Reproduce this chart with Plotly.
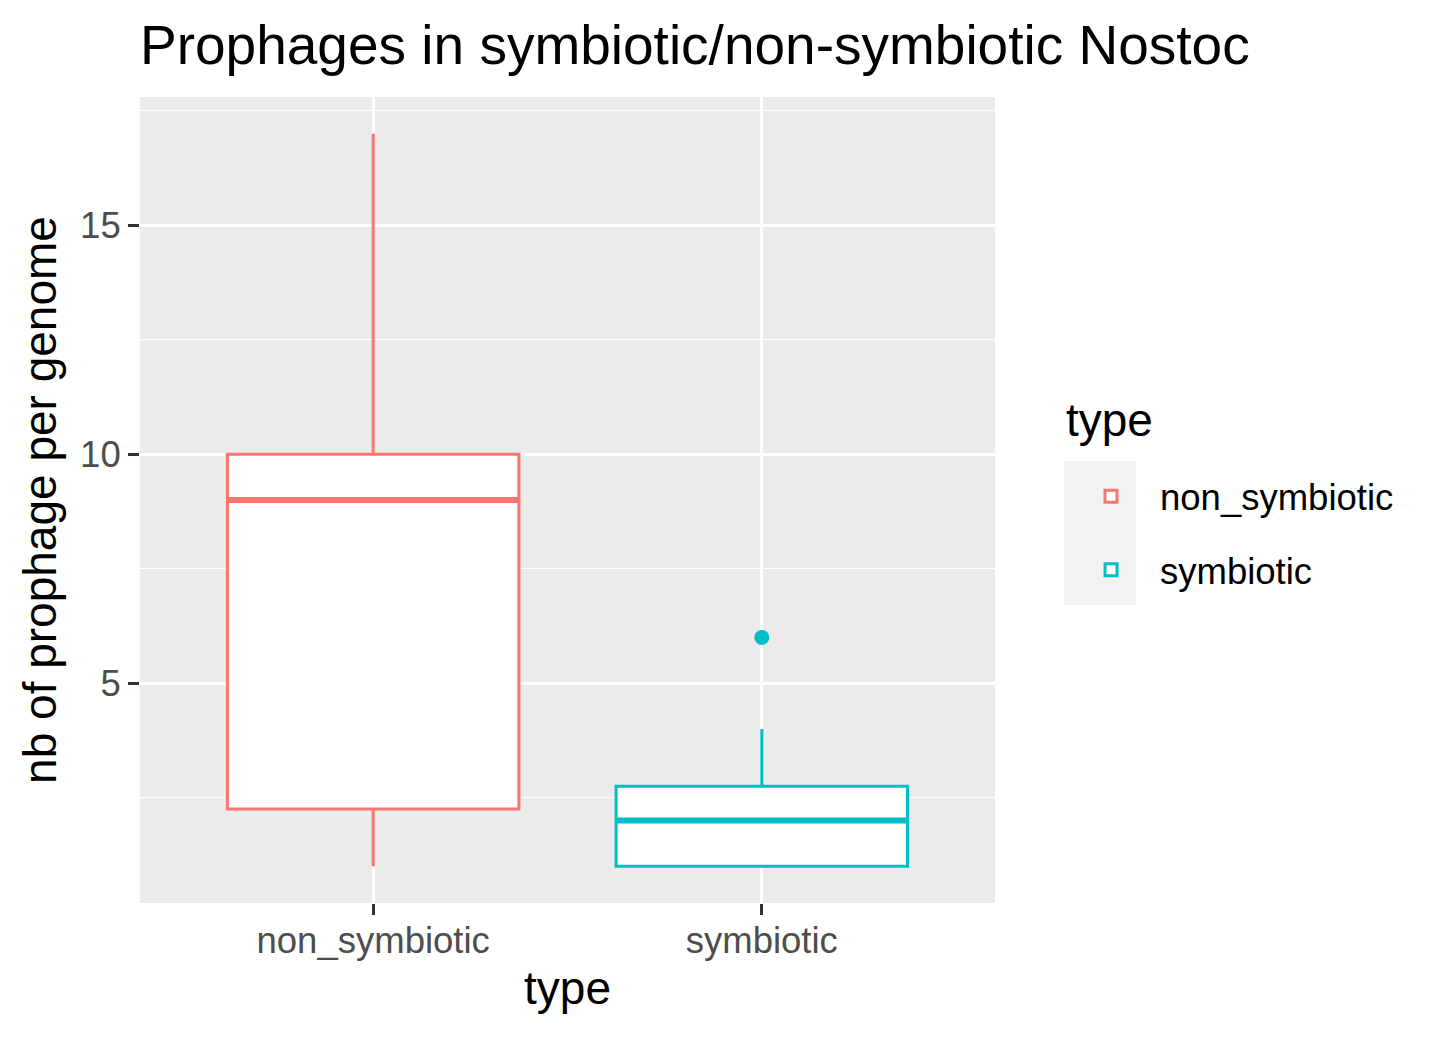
import plotly.graph_objects as go

# ---- data ----
categories = ["non_symbiotic", "symbiotic"]
colors = ["#F8766D", "#00BFC4"]
lower_whisker = [1, 1]
q1_vals = [2.25, 1]
median_vals = [9, 2]
q3_vals = [10, 2.75]
upper_whisker = [17, 4]
outlier_cat = [1]
outlier_vals = [6]

box_width = 0.75
FONT = "Liberation Sans, Arial, sans-serif"

fig = go.Figure()
for i, cat in enumerate(categories):
    fig.add_trace(go.Box(
        x=[i], q1=[q1_vals[i]], median=[median_vals[i]], q3=[q3_vals[i]],
        lowerfence=[lower_whisker[i]], upperfence=[upper_whisker[i]],
        name=cat, width=box_width, fillcolor="white",
        line=dict(color=colors[i], width=3), whiskerwidth=0,
        legendgroup=cat, showlegend=True, hoverinfo="skip",
    ))
    # thicker median line, as in ggplot
    fig.add_trace(go.Scatter(
        x=[i - box_width / 2, i + box_width / 2],
        y=[median_vals[i], median_vals[i]],
        mode="lines", line=dict(color=colors[i], width=6),
        showlegend=False, hoverinfo="skip", legendgroup=cat,
    ))

for xi, yv in zip(outlier_cat, outlier_vals):
    fig.add_trace(go.Scatter(
        x=[xi], y=[yv], mode="markers",
        marker=dict(color=colors[xi], size=15),
        showlegend=False, hoverinfo="skip", legendgroup=categories[xi],
    ))

L, R, T, B = 140, 445, 97, 134
W, H = 1440, 1037
PW, PH = W - L - R, H - T - B


def px_x(p):
    return (p - L) / PW


def px_y(p):
    return (H - B - p) / PH


fig.update_layout(
    width=W, height=H,
    margin=dict(l=L, r=R, t=T, b=B),
    paper_bgcolor="white", plot_bgcolor="#EBEBEB",
    boxmode="overlay",
    font=dict(family=FONT, color="black"),
    title=dict(text="Prophages in symbiotic/non-symbiotic Nostoc",
               x=L / W, xanchor="left", xref="container",
               y=1 - 45 / H, yanchor="middle",
               font=dict(size=55, color="black", family=FONT)),
    xaxis=dict(
        range=[-0.6, 1.6], tickvals=list(range(len(categories))), ticktext=categories,
        showgrid=True, gridcolor="white", gridwidth=2.5, zeroline=False,
        ticks="outside", ticklen=11, tickwidth=2.5, tickcolor="#333333",
        tickfont=dict(size=36.5, color="#4D4D4D"), showline=False,
        ticklabelstandoff=-6,
        title=dict(text="type", font=dict(size=46, color="black"), standoff=12),
    ),
    yaxis=dict(
        range=[0.2, 17.8], tick0=0, dtick=5,
        showgrid=True, gridcolor="white", gridwidth=2.5, zeroline=False,
        ticks="outside", ticklen=11, tickwidth=2.5, tickcolor="#333333",
        tickfont=dict(size=36.5, color="#4D4D4D"), showline=False,
        minor=dict(tick0=2.5, dtick=5, showgrid=True, gridcolor="white",
                   gridwidth=1.2, ticks=""),
        title=dict(text="nb of prophage per genome", font=dict(size=46, color="black"),
                   standoff=8),
    ),
    legend=dict(
        x=px_x(1062), xanchor="left",
        y=px_y(466), yanchor="top",
        font=dict(size=36.5, color="black"),
        bgcolor="rgba(0,0,0,0)", tracegroupgap=23, itemwidth=88,
    ),
    annotations=[dict(
        text="type", xref="paper", yref="paper", x=px_x(1064), y=px_y(420),
        xanchor="left", yanchor="middle", showarrow=False,
        font=dict(size=46, color="black", family=FONT),
    )],
    shapes=[dict(
        type="rect", xref="paper", yref="paper", layer="below",
        x0=px_x(1064), x1=px_x(1136), y0=px_y(605), y1=px_y(461),
        fillcolor="#F2F2F2", line=dict(width=0),
    )],
)

fig.write_html("out.html")
